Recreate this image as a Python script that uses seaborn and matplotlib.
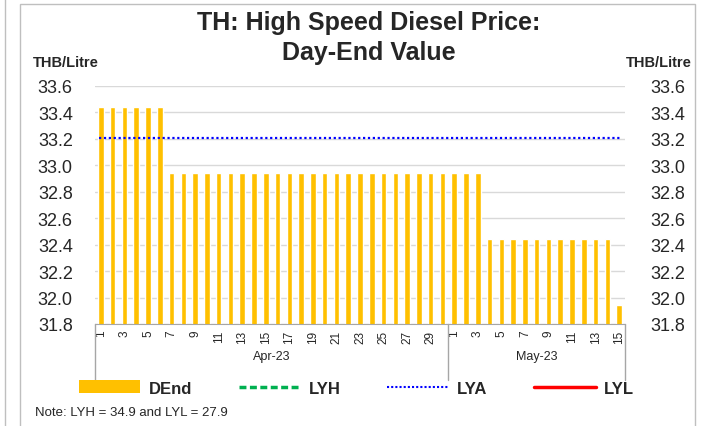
import matplotlib
matplotlib.use("Agg")
import matplotlib.pyplot as plt
import matplotlib.transforms as mtransforms
from matplotlib.patches import Patch, Rectangle
from matplotlib.lines import Line2D
import seaborn as sns
import pandas as pd

# data
apr_days = [1, 2, 3, 4, 5, 6, 7, 8, 9, 10, 11, 12, 13, 14, 15,
            16, 17, 18, 19, 20, 21, 22, 23, 24, 25, 26, 27, 28, 29, 30]
may_days = [1, 2, 3, 4, 5, 6, 7, 8, 9, 10, 11, 12, 13, 14, 15]
dend = [33.44, 33.44, 33.44, 33.44, 33.44, 33.44,
        32.94, 32.94, 32.94, 32.94, 32.94, 32.94, 32.94, 32.94, 32.94, 32.94,
        32.94, 32.94, 32.94, 32.94, 32.94, 32.94, 32.94, 32.94, 32.94, 32.94,
        32.94, 32.94, 32.94, 32.94,
        32.94, 32.94, 32.94,
        32.44, 32.44, 32.44, 32.44, 32.44, 32.44, 32.44, 32.44, 32.44, 32.44, 32.44,
        31.94]
lya = 33.21
lyh = 34.9
lyl = 27.9
months = ["Apr-23", "May-23"]
y_ticks = [31.8, 32.0, 32.2, 32.4, 32.6, 32.8, 33.0, 33.2, 33.4, 33.6]

df = pd.DataFrame({
    "month": [months[0]] * len(apr_days) + [months[1]] * len(may_days),
    "day": apr_days + may_days,
    "DEnd": dend,
})
df["pos"] = range(len(df))

sns.set_style("white")
plt.rcParams["font.family"] = ["Liberation Sans", "DejaVu Sans"]

fig = plt.figure(figsize=(7.02, 4.27), dpi=100)
ax = fig.add_axes([95 / 702, 1 - 325 / 427, 530 / 702, 238 / 427])

sns.barplot(data=df, x="pos", y="DEnd", color="#FFC000", width=0.48,
            saturation=1, ax=ax, zorder=2)
ax.hlines(lya, 0 - 0.2, len(df) - 1 + 0.2, colors="#0000FF", linestyles=(0, (1, 1.2)),
          linewidth=1.6, zorder=3)

ax.set_ylim(31.8, 33.6)
ax.set_xlim(-0.5, len(df) - 0.5)
ax.set_yticks(y_ticks)
ax.set_yticklabels([f"{v:.1f}" for v in y_ticks], fontsize=13)
ax.yaxis.grid(True, color="#D9D9D9", linewidth=1)
ax.set_axisbelow(True)
ax.tick_params(axis="y", length=0, pad=16)

labels = [str(d) if d % 2 == 1 else "" for d in df["day"]]
ax.set_xticks(df["pos"])
ax.set_xticklabels(labels, rotation=90, fontsize=8.5)
ax.tick_params(axis="x", length=0, pad=4)
ax.set_xlabel("")
ax.set_ylabel("")
for s in ["top", "left", "right"]:
    ax.spines[s].set_visible(False)
ax.spines["bottom"].set_color("#A6A6A6")

ax2 = ax.twinx()
ax2.set_ylim(31.8, 33.6)
ax2.set_yticks(y_ticks)
ax2.set_yticklabels([f"{v:.1f}" for v in y_ticks], fontsize=13)
ax2.tick_params(axis="y", length=0, pad=18)
for s in ["top", "left", "right", "bottom"]:
    ax2.spines[s].set_visible(False)

# month groups under the day labels
trans = mtransforms.blended_transform_factory(ax.transData, ax.transAxes)
n_apr = len(apr_days)
for xb in [-0.5, n_apr - 0.5, len(df) - 0.5]:
    ax.plot([xb, xb], [0, -0.235], color="#A6A6A6", linewidth=1,
            transform=trans, clip_on=False)
ax.text((n_apr - 1) / 2, -0.135, months[0], transform=trans,
        ha="center", va="center", fontsize=9)
ax.text(n_apr + (len(may_days) - 1) / 2, -0.135, months[1], transform=trans,
        ha="center", va="center", fontsize=9)

fig.text(0.525, 1 - 11 / 427, "TH: High Speed Diesel Price:\nDay-End Value",
         ha="center", va="top", fontsize=18, fontweight="bold", linespacing=1.33)
fig.text(33 / 702, 1 - 63 / 427, "THB/Litre", ha="left", va="center",
         fontsize=10.5, fontweight="bold")
fig.text(692 / 702, 1 - 63 / 427, "THB/Litre", ha="right", va="center",
         fontsize=10.5, fontweight="bold")

handles = [
    Patch(facecolor="#FFC000", edgecolor="none"),
    Line2D([], [], color="#00B050", linestyle=(0, (2, 1)), linewidth=2.5),
    Line2D([], [], color="#0000FF", linestyle=(0, (1, 1)), linewidth=1.5),
    Line2D([], [], color="#FF0000", linestyle="-", linewidth=2.5),
]
fig.legend(handles, ["DEnd", "LYH", "LYA", "LYL"], loc="center",
           bbox_to_anchor=(0.508, 1 - 389 / 427), ncol=4, frameon=False,
           prop={"weight": "bold", "size": 12}, handlelength=3.7,
           handleheight=0.8, columnspacing=2.8, handletextpad=0.5)
fig.text(35 / 702, 1 - 413 / 427, f"Note: LYH = {lyh} and LYL = {lyl}",
         ha="left", va="center", fontsize=9.5)

# chart frame
fig.patches.append(Rectangle((20 / 702, -0.05), 675 / 702, 1.05 - 5 / 427,
                             transform=fig.transFigure, fill=False,
                             edgecolor="#BFBFBF", linewidth=1))
fig.lines.append(Line2D([5 / 702, 5 / 702], [0, 1], transform=fig.transFigure,
                        color="#BFBFBF", linewidth=1))

fig.savefig("out.png", dpi=100)
